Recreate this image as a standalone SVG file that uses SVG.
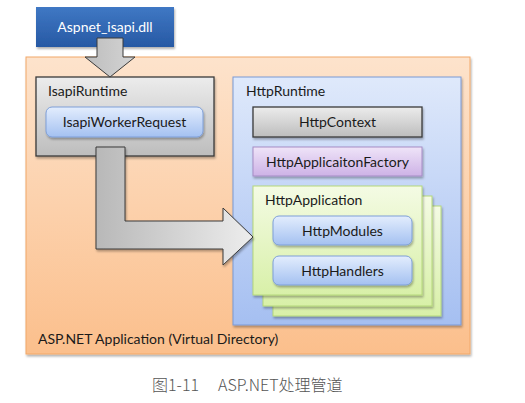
<svg xmlns="http://www.w3.org/2000/svg" width="525" height="403" viewBox="0 0 525 403">
<defs>
<linearGradient id="gOrange" x1="0" y1="0" x2="0" y2="1"><stop offset="0" stop-color="#fde3cc"/><stop offset="1" stop-color="#fbbf8c"/></linearGradient>
<linearGradient id="gHR" x1="0" y1="0" x2="0" y2="1"><stop offset="0" stop-color="#dfe9fb"/><stop offset="1" stop-color="#a5bff1"/></linearGradient>
<linearGradient id="gDll" x1="0" y1="0" x2="0" y2="1"><stop offset="0" stop-color="#3f78c4"/><stop offset="1" stop-color="#2759a4"/></linearGradient>
<linearGradient id="gGray" x1="0" y1="0" x2="0" y2="1"><stop offset="0" stop-color="#ececec"/><stop offset="1" stop-color="#bdbdbd"/></linearGradient>
<linearGradient id="gBtn" x1="0" y1="0" x2="0" y2="1"><stop offset="0" stop-color="#e3edfd"/><stop offset="1" stop-color="#a4c1f1"/></linearGradient>
<linearGradient id="gPurple" x1="0" y1="0" x2="0" y2="1"><stop offset="0" stop-color="#efe4f8"/><stop offset="1" stop-color="#cdb2e6"/></linearGradient>
<linearGradient id="gGreen" x1="0" y1="0" x2="0" y2="1"><stop offset="0" stop-color="#f4fbe4"/><stop offset="1" stop-color="#d8f0a8"/></linearGradient>
<linearGradient id="gArrowV" x1="0" y1="0" x2="1" y2="0"><stop offset="0" stop-color="#bdbdbd"/><stop offset="1" stop-color="#d4d4d4"/></linearGradient>
<linearGradient id="gArrowL" x1="0" y1="0" x2="1" y2="0"><stop offset="0" stop-color="#b8b8b8"/><stop offset="1" stop-color="#ededed"/></linearGradient>
<filter id="sh" x="-10%" y="-10%" width="130%" height="140%"><feDropShadow dx="1" dy="2" stdDeviation="1.2" flood-color="#000" flood-opacity="0.3"/></filter>
</defs>
<style>
text{font-family:Lato,"Open Sans","Liberation Sans",sans-serif;font-size:14px;fill:#1a1a1a}
.c{text-anchor:middle}
.cap{font-family:"Noto Sans CJK SC","Noto Sans",sans-serif;font-size:16px;fill:#555555;font-weight:300}
.btn{fill:url(#gBtn);stroke:#7e9fd8;stroke-width:1}
.dark{stroke:#3a3a3a;stroke-width:1.3}
.green{fill:url(#gGreen);stroke:#b5d87a;stroke-width:1}
</style>
<rect width="525" height="403" fill="#ffffff"/>

<g id="app">
<rect x="26" y="57" width="444" height="297" fill="url(#gOrange)" stroke="#f2a868" stroke-width="1" filter="url(#sh)"/>
<text x="38" y="344">ASP.NET Application (Virtual Directory)</text>
</g>

<g id="dll">
<rect x="36" y="7" width="138" height="40" fill="url(#gDll)" filter="url(#sh)"/>
<text x="105" y="32" class="c" style="fill:#ffffff">Aspnet_isapi.dll</text>
</g>

<g id="isapiRuntime">
<rect x="36" y="77" width="178" height="79" fill="url(#gGray)" class="dark" filter="url(#sh)"/>
<text x="48" y="96">IsapiRuntime</text>
</g>
<g id="isapiWorkerRequest">
<rect x="46" y="107" width="157" height="30" rx="6" class="btn" filter="url(#sh)"/>
<text x="124.5" y="127" class="c">IsapiWorkerRequest</text>
</g>

<g id="httpRuntime">
<rect x="233" y="77" width="228" height="248" fill="url(#gHR)" stroke="#7b99d4" stroke-width="1" filter="url(#sh)"/>
<text x="246" y="96">HttpRuntime</text>
</g>
<g id="httpContext">
<rect x="253" y="107" width="169" height="30" fill="url(#gGray)" class="dark" filter="url(#sh)"/>
<text x="337.5" y="127" class="c">HttpContext</text>
</g>
<g id="httpApplicationFactory">
<rect x="253" y="147" width="169" height="29" fill="url(#gPurple)" stroke="#a58cc4" stroke-width="1" filter="url(#sh)"/>
<text x="337.5" y="166.5" class="c">HttpApplicaitonFactory</text>
</g>
<g id="httpApplication">
<rect x="273" y="206" width="168" height="110" class="green" filter="url(#sh)"/>
<rect x="263" y="196" width="169" height="110" class="green" filter="url(#sh)"/>
<rect x="253" y="186" width="169" height="109" class="green" filter="url(#sh)"/>
<text x="265" y="205">HttpApplication</text>
</g>
<g id="httpModules">
<rect x="273" y="216" width="139" height="29" rx="6" class="btn" filter="url(#sh)"/>
<text x="342.5" y="235.5" class="c">HttpModules</text>
</g>
<g id="httpHandlers">
<rect x="273" y="256" width="139" height="29" rx="6" class="btn" filter="url(#sh)"/>
<text x="342.5" y="275.5" class="c">HttpHandlers</text>
</g>

<g id="connectors">
<path d="M97,38 H123 V57 H135 L110,77 L85,57 H97 Z" fill="url(#gArrowV)" stroke="#3a3a3a" stroke-width="1"/>
<path d="M96,147 H125 V221 H223 V208 L253,237 L223,265 V249 H96 Z" fill="url(#gArrowL)" stroke="#3a3a3a" stroke-width="1" filter="url(#sh)"/>
</g>

<g id="caption">
<text x="152" y="391" class="cap">图1-11</text>
<text x="218" y="391" class="cap">ASP.NET处理管道</text>
</g>
</svg>
